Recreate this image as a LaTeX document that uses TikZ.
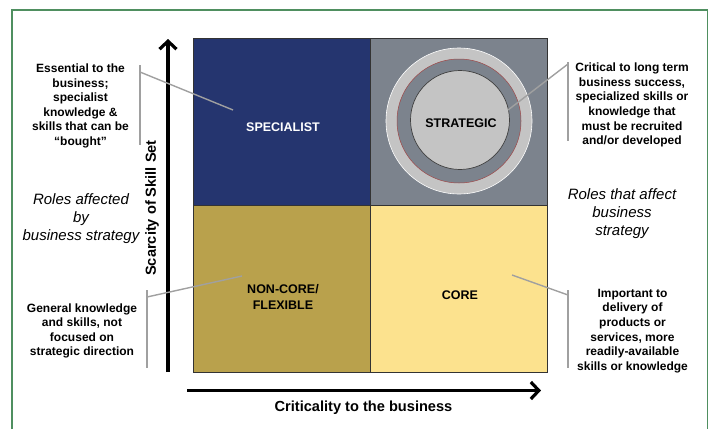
\documentclass[tikz,border=0pt]{standalone}
\usepackage{fontspec}
\setmainfont{Liberation Sans}
\usetikzlibrary{arrows.meta}

\definecolor{specblue}{HTML}{25356F}
\definecolor{strgray}{HTML}{7C838D}
\definecolor{ringgray}{HTML}{C4C4C4}
\definecolor{noncoregold}{HTML}{B9A14C}
\definecolor{coreyellow}{HTML}{FCE28E}
\definecolor{framegreen}{HTML}{4F8F60}
\definecolor{leadergray}{HTML}{A0A0A0}
\definecolor{ringred}{HTML}{A04848}

\tikzset{
  quad/.style={draw=black!80, line width=0.8pt, minimum width=177pt,
    minimum height=167pt, inner sep=0pt},
  quadlabel/.style={font=\bfseries\fontsize{12.5}{16}\selectfont, align=center, inner sep=0pt},
  note/.style={font=\bfseries\fontsize{12}{14.6}\selectfont, align=center, inner sep=0pt},
  roles/.style={font=\itshape\fontsize{15}{18}\selectfont, align=center, inner sep=0pt},
  axislabel/.style={font=\bfseries\fontsize{14.6}{17}\selectfont, inner sep=0pt},
  axisarrow/.style={line width=3.2pt, -{Straight Barb[length=8pt,width=17pt]}},
  bracket/.style={draw=leadergray, line width=1.6pt},
  leader/.style={draw=leadergray, line width=1.4pt},
}

\begin{document}
\begin{tikzpicture}[x=1pt,y=-1pt]
  \useasboundingbox (0,0) rectangle (709,429);

  % outer frame
  \draw[framegreen, line width=1.2pt] (12,429) -- (12,10) -- (707.5,10) -- (707.5,429);

  % the four quadrants
  \node[quad, fill=specblue]    (spec)    at (281.5,121.5) {};
  \node[quad, fill=strgray]     (strat)   at (458.5,121.5) {};
  \node[quad, fill=noncoregold] (noncore) at (281.5,288.5) {};
  \node[quad, fill=coreyellow]  (core)    at (458.5,288.5) {};

  % target rings in the strategic quadrant
  \fill[ringgray, draw=white, line width=0.6pt] (459,121) circle (73);
  \fill[strgray, draw=ringred, line width=0.5pt] (459,121) circle (62);
  \fill[ringgray, draw=black!75, line width=0.7pt] (460,120) circle (49.5);

  % quadrant labels
  \node[quadlabel, text=white] (specT) at (283,127) {SPECIALIST};
  \node[quadlabel] (stratT) at (461,123) {STRATEGIC};
  \node[quadlabel] (noncoreT) at (283,297) {NON-CORE/\\FLEXIBLE};
  \node[quadlabel] (coreT) at (460,295) {CORE};

  % axes
  \coordinate (ybot) at (168,372);
  \coordinate (ytop) at (168,39);
  \coordinate (xleft) at (187,390.5);
  \coordinate (xright) at (541,390.5);
  \draw[axisarrow] (ybot) -- (ytop);
  \draw[axisarrow] (xleft) -- (xright);
  \node[axislabel, rotate=90] (ylab) at (152,208) {Scarcity of Skill Set};
  \node[axislabel] (xlab) at (363.5,408) {Criticality to the business};

  % side captions
  \node[roles] (affected) at (81,219) {Roles affected\\by\\business strategy};
  \node[roles] (affect) at (622,214) {Roles that affect\\business\\strategy};

  % descriptive notes
  \node[note] (specN) at (80.5,106) {Essential to the\\business;\\specialist\\knowledge \&\\skills that can be\\“bought”};
  \node[note] (stratN) at (632,105) {Critical to long term\\business success,\\specialized skills or\\knowledge that\\must be recruited\\and/or developed};
  \node[note] (noncoreN) at (82,331) {General knowledge\\and skills, not\\focused on\\strategic direction};
  \node[note] (coreN) at (632.5,331) {Important to\\delivery of\\products or\\services, more\\readily-available\\skills or knowledge};

  % brackets beside the notes
  \coordinate (b1t) at (140,65);  \coordinate (b1b) at (140,145);
  \coordinate (b2t) at (568,62);  \coordinate (b2b) at (568,141);
  \coordinate (b3t) at (147,290); \coordinate (b3b) at (147,368);
  \coordinate (b4t) at (568,290); \coordinate (b4b) at (568,368);
  \draw[bracket] (b1t) -- (b1b);
  \draw[bracket] (b2t) -- (b2b);
  \draw[bracket] (b3t) -- (b3b);
  \draw[bracket] (b4t) -- (b4b);

  % leader lines into the quadrants
  \coordinate (l1s) at (140,72);  \coordinate (l1e) at (233,110);
  \coordinate (l2s) at (568,64);  \coordinate (l2e) at (508,110);
  \coordinate (l3s) at (147,297); \coordinate (l3e) at (242,276);
  \coordinate (l4s) at (568,295); \coordinate (l4e) at (512,275);
  \draw[leader] (l1s) -- (l1e);
  \draw[leader] (l2s) -- (l2e);
  \draw[leader] (l3s) -- (l3e);
  \draw[leader] (l4s) -- (l4e);
\end{tikzpicture}
\end{document}
